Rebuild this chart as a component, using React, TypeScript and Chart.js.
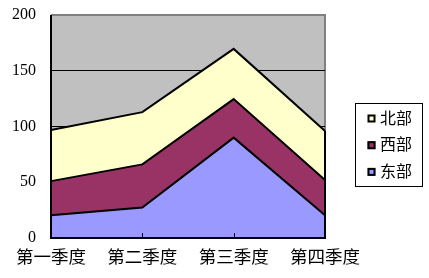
import React, { useEffect, useRef } from 'react';
import { Chart, registerables } from 'chart.js';

Chart.register(...registerables);

const categories = ['第一季度', '第二季度', '第三季度', '第四季度'];
const seriesNames = ['东部', '西部', '北部'];
const east = [20.4, 27.4, 90, 20.4];
const west = [30.6, 38.6, 34.6, 31.6];
const north = [45.9, 46.9, 45, 43.9];
const seriesColors = ['#9999FF', '#993366', '#FFFFCC'];
const yMin = 0;
const yMax = 200;
const yStep = 50;

const FONT_NUM = '"Liberation Serif", "Times New Roman", serif';
const FONT_CJK = '"Liberation Serif", "Noto Sans CJK SC", serif';

const plotPlugin = {
  id: 'excelPlot',
  beforeDraw(chart: any) {
    const { ctx, chartArea: a } = chart;
    ctx.save();
    ctx.fillStyle = '#C0C0C0';
    ctx.fillRect(a.left, a.top, a.right - a.left, a.bottom - a.top);
    ctx.strokeStyle = '#808080';
    ctx.lineWidth = 2;
    ctx.beginPath();
    ctx.moveTo(a.left, a.top);
    ctx.lineTo(a.right, a.top);
    ctx.lineTo(a.right, a.bottom);
    ctx.stroke();
    ctx.restore();
  },
  afterDatasetsDraw(chart: any) {
    const { ctx, chartArea: a, scales } = chart;
    const x = scales.x;
    const y = scales.y;
    ctx.save();
    ctx.strokeStyle = '#000';
    ctx.lineWidth = 2;
    const last = categories.length - 1;
    const total = chart.data.datasets.reduce((s: number, d: any) => s + d.data[last], 0);
    ctx.beginPath();
    ctx.moveTo(a.right, a.bottom);
    ctx.lineTo(a.right, y.getPixelForValue(total));
    ctx.stroke();
    ctx.beginPath();
    ctx.moveTo(a.left, a.top);
    ctx.lineTo(a.left, a.bottom);
    ctx.lineTo(a.right + 1, a.bottom);
    ctx.stroke();
    ctx.lineWidth = 1;
    ctx.beginPath();
    for (let i = 1; i < categories.length - 1; i++) {
      const px = Math.round(x.getPixelForValue(i)) + 0.5;
      ctx.moveTo(px, a.bottom);
      ctx.lineTo(px, a.bottom - 5);
    }
    ctx.stroke();
    ctx.restore();
  },
  afterDraw(chart: any) {
    const { ctx, chartArea: a } = chart;
    const ds = chart.data.datasets.slice().reverse();
    const boxL = a.right + 30.5;
    const boxT = 103.5;
    const boxW = 67;
    const rowH = 26.7;
    const boxH = 83;
    ctx.save();
    ctx.strokeStyle = '#000';
    ctx.lineWidth = 1;
    ctx.fillStyle = '#fff';
    ctx.fillRect(boxL, boxT, boxW, boxH);
    ctx.strokeRect(boxL, boxT, boxW, boxH);
    ctx.font = '16px ' + FONT_CJK;
    ctx.textBaseline = 'middle';
    ds.forEach((d: any, i: number) => {
      const cy = boxT + 15 + i * rowH;
      const sx = boxL + 12;
      ctx.fillStyle = d.backgroundColor;
      ctx.fillRect(sx, cy - 4, 8, 8);
      ctx.lineWidth = 2;
      ctx.strokeStyle = '#000';
      ctx.strokeRect(sx + 1, cy - 3, 6, 6);
      ctx.fillStyle = '#000';
      ctx.textAlign = 'left';
      ctx.fillText(d.label, boxL + 24.5, cy + 1);
    });
    ctx.restore();
  },
};

export default function App() {
  const ref = useRef<HTMLCanvasElement>(null);
  useEffect(() => {
    if (!ref.current) return;
    const values = [east, west, north];
    const chart = new Chart(ref.current, {
      type: 'line',
      data: {
        labels: categories,
        datasets: values.map((v, i) => ({
          label: seriesNames[i],
          data: v,
          backgroundColor: seriesColors[i],
          borderColor: '#000',
          borderWidth: 2,
          pointRadius: 0,
          tension: 0,
          fill: i === 0 ? 'origin' : '-1',
        })),
      },
      options: {
        animation: false,
        responsive: false,
        devicePixelRatio: 1,
        layout: { padding: { top: 15, right: 104, left: 0, bottom: 0 } },
        plugins: { legend: { display: false }, tooltip: { enabled: false } },
        scales: {
          x: {
            offset: false,
            grid: { display: false, drawTicks: false },
            border: { display: false },
            ticks: { color: '#000', font: { family: FONT_CJK, size: 17.5 }, padding: 10, maxRotation: 0, autoSkip: false },
            afterFit: (s: any) => { s.height = 40; },
          },
          y: {
            stacked: true,
            min: yMin,
            max: yMax,
            grid: {
              drawTicks: true,
              tickLength: 15,
              tickColor: 'rgba(0,0,0,0)',
              color: (c: any) => (c.tick && c.tick.value > yMin && c.tick.value < yMax ? '#000' : 'rgba(0,0,0,0)'),
              lineWidth: 1,
            },
            border: { display: false },
            ticks: { stepSize: yStep, color: '#000', font: { family: FONT_NUM, size: 16 }, padding: 0 },
            afterFit: (s: any) => { s.width = 51; },
          },
        },
      },
      plugins: [plotPlugin],
    });
    return () => chart.destroy();
  }, []);
  return (
    <div style={{ position: 'absolute', left: 0, top: 0, width: 429, height: 278, background: '#fff' }}>
      <canvas ref={ref} width={429} height={278} />
    </div>
  );
}
